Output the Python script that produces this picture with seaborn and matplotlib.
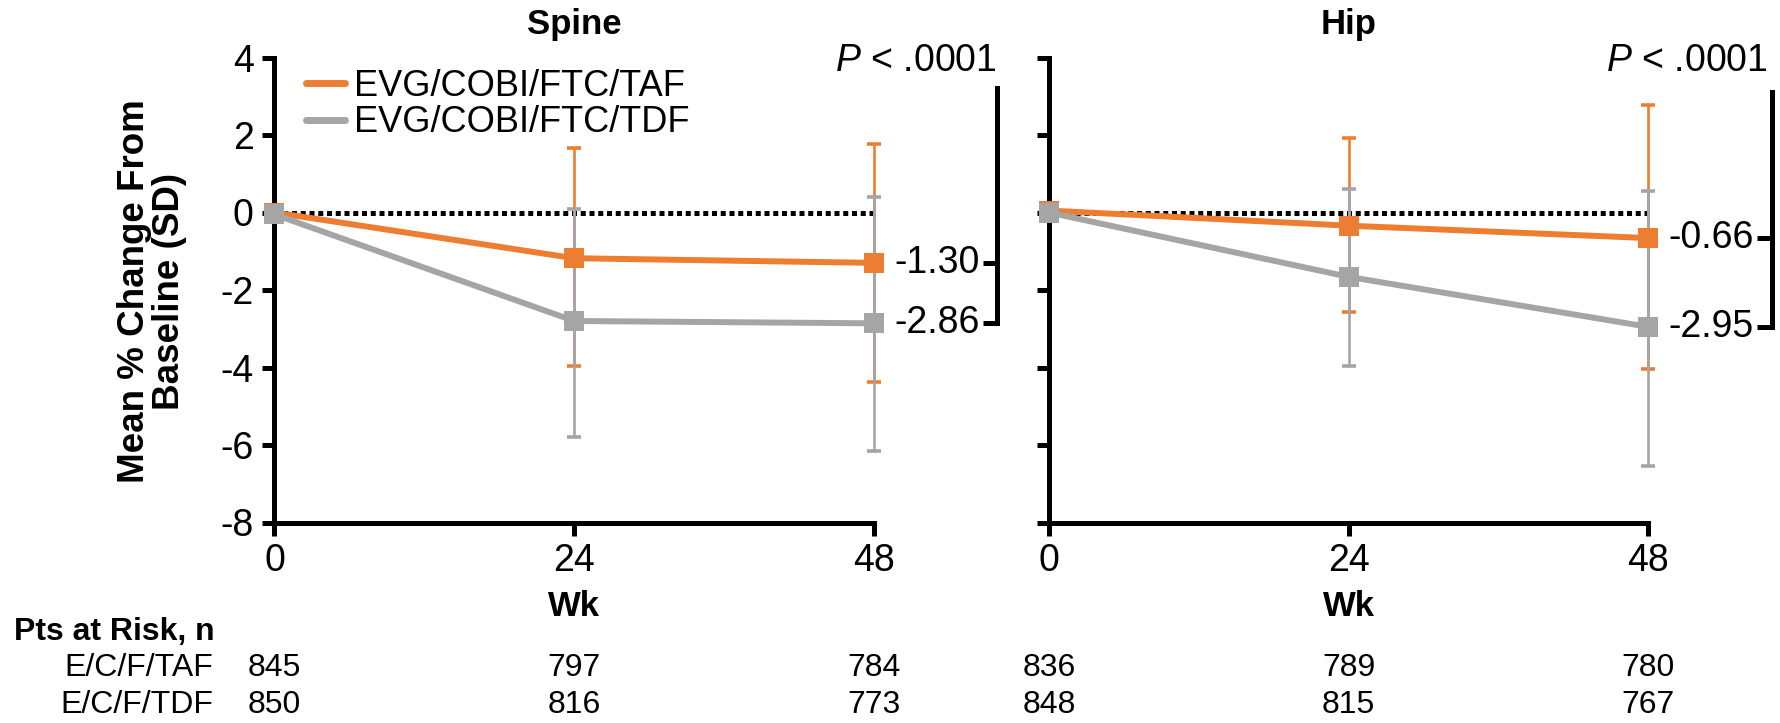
import numpy as np
import pandas as pd
import matplotlib
matplotlib.use("Agg")
import matplotlib.pyplot as plt
import matplotlib.font_manager as fm
import matplotlib.transforms as mtransforms
from matplotlib.lines import Line2D
import seaborn as sns

# ---------------- data ----------------
weeks = [0, 24, 48]
arms = ["EVG/COBI/FTC/TAF", "EVG/COBI/FTC/TDF"]
arm_short = ["E/C/F/TAF", "E/C/F/TDF"]

spine_taf = [0.0, -1.18, -1.30]
spine_tdf = [-0.05, -2.80, -2.86]
spine_taf_hi = [np.nan, 1.66, 1.78]
spine_taf_lo = [np.nan, -3.97, -4.38]
spine_tdf_hi = [np.nan, 0.08, 0.41]
spine_tdf_lo = [np.nan, -5.80, -6.16]

hip_taf = [0.05, -0.34, -0.66]
hip_tdf = [0.0, -1.66, -2.95]
hip_taf_hi = [np.nan, 1.92, 2.78]
hip_taf_lo = [np.nan, -2.57, -4.03]
hip_tdf_hi = [np.nan, 0.60, 0.55]
hip_tdf_lo = [np.nan, -3.97, -6.55]

spine_risk_taf = [845, 797, 784]
spine_risk_tdf = [850, 816, 773]
hip_risk_taf = [836, 789, 780]
hip_risk_tdf = [848, 815, 767]

spine_end_labels = ["-1.30", "-2.86"]
hip_end_labels = ["-0.66", "-2.95"]
p_text = "$P$ < .0001"

colors = {arms[0]: "#ED7D31", arms[1]: "#A5A5A5"}

# ---------------- style ----------------
sns.set_style("white")
avail = {f.name for f in fm.fontManager.ttflist}
narrow = "Liberation Sans Narrow" if "Liberation Sans Narrow" in avail else "Liberation Sans"
plt.rcParams["font.family"] = [narrow, "DejaVu Sans"]
plt.rcParams["mathtext.fontset"] = "custom"
plt.rcParams["mathtext.it"] = f"{narrow}:italic"
plt.rcParams["mathtext.rm"] = narrow
plt.rcParams["axes.unicode_minus"] = False
for k in ["text.color", "axes.labelcolor", "xtick.color", "ytick.color", "axes.edgecolor"]:
    plt.rcParams[k] = "black"

W, H = 1781, 723
fig = plt.figure(figsize=(W / 100, H / 100), dpi=100)
ax1 = fig.add_axes([274.5 / W, 1 - 522.5 / H, 599.5 / W, 465 / H])
ax2 = fig.add_axes([1049 / W, 1 - 522.5 / H, 599 / W, 465 / H])

AXLW = 3.6


def draw(ax, taf, tdf, taf_hi, taf_lo, tdf_hi, tdf_lo, title, show_ylabels):
    df = pd.DataFrame({
        "week": weeks * 2,
        "change": list(taf) + list(tdf),
        "arm": [arms[0]] * 3 + [arms[1]] * 3,
    })
    ax.axhline(0, color="black", lw=3.6, ls=(0, (1.0, 0.75)), zorder=1)
    for vals, hi, lo, arm in [(taf, taf_hi, taf_lo, arms[0]), (tdf, tdf_hi, tdf_lo, arms[1])]:
        vals = np.array(vals); hi = np.array(hi); lo = np.array(lo)
        m = ~np.isnan(hi)
        ax.errorbar(np.array(weeks)[m], vals[m],
                    yerr=[vals[m] - lo[m], hi[m] - vals[m]],
                    fmt="none", ecolor=colors[arm], elinewidth=1.9,
                    capsize=5, capthick=2.6, zorder=2, clip_on=False)
    sns.lineplot(data=df, x="week", y="change", hue="arm", style="arm",
                 markers={arms[0]: "s", arms[1]: "s"}, dashes=False,
                 palette=colors, lw=4.3, markersize=14, markeredgewidth=0,
                 ax=ax, legend=False, clip_on=False, zorder=3)
    ax.set_xlim(0, 48)
    ax.set_ylim(-8, 4)
    ax.set_xticks(weeks)
    ax.set_yticks([-8, -6, -4, -2, 0, 2, 4])
    for s in ["top", "right"]:
        ax.spines[s].set_visible(False)
    for s in ["left", "bottom"]:
        ax.spines[s].set_linewidth(AXLW)
        ax.spines[s].set_color("black")
        ax.spines[s].set_capstyle("projecting")
    ax.tick_params(direction="out", length=9, width=AXLW, labelsize=27, pad=6,
                   colors="black", left=True, bottom=True)
    if not show_ylabels:
        ax.tick_params(labelleft=False)
    ax.set_ylabel("")
    ax.set_xlabel("Wk", fontsize=25, fontweight="bold")
    ax.xaxis.set_label_coords(0.5, -0.146)
    ax.text(0.5, 1.07, title, transform=ax.transAxes, ha="center", va="center",
            fontsize=25, fontweight="bold")
    return ax


draw(ax1, spine_taf, spine_tdf, spine_taf_hi, spine_taf_lo, spine_tdf_hi, spine_tdf_lo,
     "Spine", True)
draw(ax2, hip_taf, hip_tdf, hip_taf_hi, hip_taf_lo, hip_tdf_hi, hip_tdf_lo,
     "Hip", False)

# brackets with end values
for ax, taf, tdf, labs, bx, sx, lx, px, top in [
        (ax1, spine_taf, spine_tdf, spine_end_labels, 57.85, 56.75, 56.45, 57.8, 3.21),
        (ax2, hip_taf, hip_tdf, hip_end_labels, 57.94, 56.75, 56.5, 57.6, 3.11)]:
    ax.plot([bx, bx], [top, tdf[-1]], color="black", lw=AXLW, clip_on=False,
            solid_capstyle="projecting")
    for v, lab in zip([taf[-1], tdf[-1]], labs):
        ax.plot([sx, bx], [v, v], color="black", lw=AXLW, clip_on=False,
                solid_capstyle="butt")
        ax.text(lx, v, lab, ha="right", va="center", fontsize=27, clip_on=False)
    ax.text(px, 3.9, p_text, ha="right", va="center", fontsize=27, clip_on=False)

# legend
handles = [Line2D([], [], color=colors[a], lw=5) for a in arms]
ax1.legend(handles, arms, loc="upper left", bbox_to_anchor=(0.052, 0.976),
           frameon=False, fontsize=26, handlelength=1.1, handletextpad=0.25,
           labelspacing=0.05, borderaxespad=0, borderpad=0)

# y label
fig.text(152 / W, 1 - 291 / H, "Mean % Change From\nBaseline (SD)", rotation=90,
         ha="center", va="center", ma="center", fontsize=26.5, fontweight="bold",
         family=["Liberation Sans", "DejaVu Sans"], linespacing=1.0)

# at-risk table
fig.text(14 / W, 1 - 632 / H, "Pts at Risk, n", ha="left", va="center",
         fontsize=23, fontweight="bold")
row_y = [1 - 668 / H, 1 - 705 / H]
for y, lab in zip(row_y, arm_short):
    fig.text(213 / W, y, lab, ha="right", va="center", fontsize=23)
for ax, rows in [(ax1, [spine_risk_taf, spine_risk_tdf]), (ax2, [hip_risk_taf, hip_risk_tdf])]:
    tr = mtransforms.blended_transform_factory(ax.transData, fig.transFigure)
    for y, vals in zip(row_y, rows):
        for wk, v in zip(weeks, vals):
            ax.text(wk, y, str(v), transform=tr, ha="center", va="center",
                    fontsize=23, clip_on=False)

fig.savefig("out.png", dpi=100)
